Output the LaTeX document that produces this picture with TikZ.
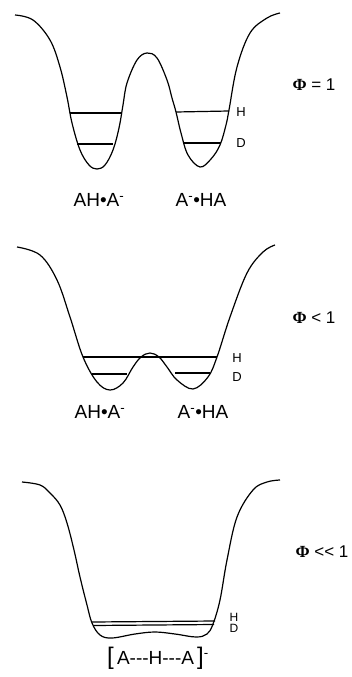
\documentclass[tikz,border=0pt]{standalone}
\usepackage{fontspec}
\setmainfont{Liberation Sans}
\newfontfamily\phifont{Liberation Serif}
\usepackage{tikz}

\begin{document}
\begin{tikzpicture}[x=1pt,y=-1pt,
 well/.style={line width=1.2pt,line join=round},
 lvl/.style={line width=1.2pt},
 lbl/.style={font=\fontsize{19}{22}\selectfont,inner sep=0pt},
 hd/.style={font=\fontsize{13}{14}\selectfont,inner sep=0pt},
 phi/.style={font=\fontsize{17}{19}\selectfont,inner sep=0pt}]
\useasboundingbox (0,0) rectangle (351,677);
% Phi = 1
\draw[well] plot[smooth,tension=0.6] coordinates {(15,15) (33,20) (50,40) (60,67) (67,97) (72,123) (80,150) (89,165) (97,169) (105,165) (113,150) (119,128) (123,105) (127,83) (137,60) (147,53) (157,58) (167,80) (172,98) (176,112) (181,133) (188,155) (200,167) (211,159) (220,145) (226,125) (229,110) (237,67) (250,33) (267,18) (280,13)};
\draw[lvl] (70,113) -- (121,113);
\draw[lvl] (77,144) -- (113,144);
\draw[lvl] (176,112) -- (229,111);
\draw[lvl] (184,143) -- (221,143);
\node[hd] (h1) at (241,112) {H};
\node[hd] (d1) at (241,143) {D};
\node[phi] (phi1) at (314,85) {{\phifont\bfseries Φ} = 1};
\node[lbl] (aha1) at (99,200) {AH\textbullet A\textsuperscript{-}};
\node[lbl] (aah1) at (201,200) {A\textsuperscript{-}\textbullet HA};
% Phi < 1
\draw[well] plot[smooth,tension=0.6] coordinates {(17,247) (40,255) (57,280) (70,317) (83,357) (97,382) (110,390) (123,383) (133,367) (141,357) (150,353) (159,357) (167,367) (177,380) (193,389) (208,377) (217,357) (230,317) (247,273) (263,252) (275,245)};
\draw[lvl] (83,357) -- (217,357);
\draw[lvl] (92,374) -- (127,374);
\draw[lvl] (175,373) -- (210,373);
\node[hd] (h2) at (237,358) {H};
\node[hd] (d2) at (237,377) {D};
\node[phi] (phi2) at (314,318) {{\phifont\bfseries Φ} < 1};
\node[lbl] (aha2) at (100,412) {AH\textbullet A\textsuperscript{-}};
\node[lbl] (aah2) at (203,412) {A\textsuperscript{-}\textbullet HA};
% Phi << 1
\draw[well] plot[smooth,tension=0.6] coordinates {(22,482) (40,485) (50,493) (60,505) (67,523) (74,550) (80,577) (87,605) (92,623) (100,635) (112,638) (135,634) (155,632) (175,634) (196,637) (207,634) (213,624) (220,600) (227,560) (237,517) (253,490) (267,482) (280,480)};
\draw[lvl] (92,622) -- (215,621);
\draw[lvl] (93,625.5) -- (214,624.5);
\node[hd,font=\fontsize{12}{12}\selectfont] (h3) at (234,617) {H};
\node[hd,font=\fontsize{12}{12}\selectfont] (d3) at (234,628) {D};
\node[phi] (phi3) at (322,552) {{\phifont\bfseries Φ} <{}< 1};
\node[lbl] (ahaf) at (158,658) {{\fontsize{24}{24}\selectfont[}\,A-{}-{}-H-{}-{}-A\,{\fontsize{24}{24}\selectfont]}\textsuperscript{-}};
\end{tikzpicture}
\end{document}
